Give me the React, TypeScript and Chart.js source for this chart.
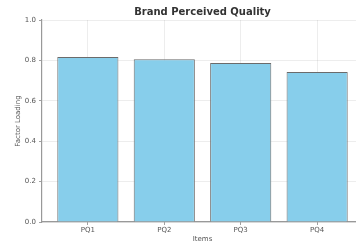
import React, { useEffect, useRef } from "react";
import { Chart, registerables } from "chart.js";
Chart.register(...registerables);

const categories = ["PQ1", "PQ2", "PQ3", "PQ4"];
const loadings = [0.817, 0.806, 0.787, 0.742];
const yTicks = [0, 0.2, 0.4, 0.6, 0.8, 1.0];
const chartTitle = "Brand Perceived Quality";
const xTitle = "Items";
const yTitle = "Factor Loading";

export default function App() {
  const ref = useRef<HTMLCanvasElement>(null);
  useEffect(() => {
    const canvas = ref.current!;
    const font = "DejaVu Sans";
    const titlePlugin = {
      id: "centeredTitle",
      afterDraw(c: any) {
        const { ctx, chartArea } = c;
        ctx.save();
        ctx.font = `bold 10px "${font}"`;
        ctx.fillStyle = "#333";
        ctx.textAlign = "center";
        ctx.textBaseline = "middle";
        ctx.fillText(chartTitle, (chartArea.left + chartArea.right) / 2, 12);
        ctx.restore();
      },
    };
    const chart = new Chart(canvas, {
      type: "bar",
      data: {
        datasets: [
          {
            data: categories.map((c, i) => ({ x: i, y: loadings[i] })),
            backgroundColor: "rgb(135,206,235)",
            borderColor: "#6b6b6b",
            borderWidth: 1,
            barPercentage: 0.8,
            categoryPercentage: 1,
          } as any,
        ],
      },
      plugins: [titlePlugin],
      options: {
        animation: false,
        responsive: false,
        maintainAspectRatio: false,
        layout: { padding: { left: 0, right: 17, top: 20, bottom: 0 } },
        plugins: {
          legend: { display: false },
          tooltip: { enabled: false },
          title: { display: false },
        },
        scales: {
          x: {
            type: "linear",
            min: -0.6,
            max: 3.6,
            offset: false,
            z: 1,
            afterBuildTicks: (s: any) => {
              s.ticks = categories.map((_, i) => ({ value: i }));
            },
            afterFit: (s: any) => {
              s.height = 21;
            },
            ticks: {
              callback: (v: any) => categories[v as number] ?? "",
              color: "#555",
              font: { family: font, size: 7 },
              padding: 1,
              maxRotation: 0,
            },
            grid: {
              offset: false,
              color: "rgba(0,0,0,0.09)",
              lineWidth: 0.8,
              tickColor: "#888",
              tickLength: 3,
            },
            border: { color: "#999", width: 1.2 },
            title: {
              display: true,
              text: xTitle,
              color: "#555",
              font: { family: font, size: 7 },
              padding: { top: 1, bottom: 0 },
            },
          },
          y: {
            type: "linear",
            min: 0,
            max: 1,
            z: 1,
            afterBuildTicks: (s: any) => {
              s.ticks = yTicks.map((v) => ({ value: v }));
            },
            afterFit: (s: any) => {
              s.width = 42;
            },
            ticks: {
              callback: (v: any) => Number(v).toFixed(1),
              color: "#555",
              font: { family: font, size: 7 },
              padding: 3,
            },
            grid: {
              color: "rgba(0,0,0,0.09)",
              lineWidth: 0.8,
              tickColor: "#888",
              tickLength: 3,
            },
            border: { color: "#999", width: 1.2 },
            title: {
              display: true,
              text: yTitle,
              color: "#555",
              font: { family: font, size: 7 },
              padding: { top: 14, bottom: 0 },
            },
          },
        },
      },
    });
    return () => chart.destroy();
  }, []);
  return (
    <div
      style={{
        position: "fixed",
        left: 0,
        top: 0,
        width: 356,
        height: 243,
        overflow: "hidden",
        background: "#fff",
      }}
    >
      <canvas ref={ref} width={380} height={243} style={{ display: "block" }} />
    </div>
  );
}
